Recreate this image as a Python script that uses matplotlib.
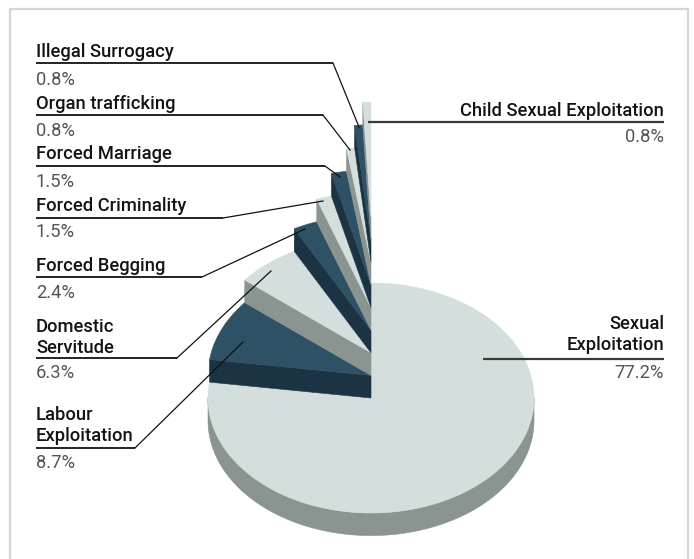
import numpy as np
import matplotlib.pyplot as plt
from matplotlib.patches import Polygon

# Shares of identified victims by form of exploitation (%)
categories = [
    "Sexual Exploitation", "Labour Exploitation", "Domestic Servitude",
    "Forced Begging", "Forced Criminality", "Forced Marriage",
    "Organ trafficking", "Illegal Surrogacy", "Child Sexual Exploitation",
]
shares = [77.2, 8.7, 6.3, 2.4, 1.5, 1.5, 0.8, 0.8, 0.8]
pct_labels = ["77.2%", "8.7%", "6.3%", "2.4%", "1.5%", "1.5%", "0.8%", "0.8%", "0.8%"]
name_lines = [
    ["Sexual", "Exploitation"], ["Labour", "Exploitation"], ["Domestic", "Servitude"],
    ["Forced Begging"], ["Forced Criminality"], ["Forced Marriage"],
    ["Organ trafficking"], ["Illegal Surrogacy"], ["Child Sexual Exploitation"],
]

# pie geometry in pixels
W, H = 694, 559
CX, CY = 371, 398
RX, RY = 163, 115
THICK = 22.6

LIGHT_TOP, LIGHT_SIDE = "#d4dedd", "#8a9491"
DARK_TOP, DARK_SIDE = "#2f5165", "#1b3342"

# label placement: x, name baseline, underline y, underline end x, leader tip
layout = [
    dict(ha="right", x=664, base=350, uy=359, ux=483, pct=378, tip=None),
    dict(ha="left", x=36, base=441, uy=448, ux=135, pct=468, tip=(243, 342)),
    dict(ha="left", x=36, base=353, uy=358, ux=177, pct=378, tip=(271, 271)),
    dict(ha="left", x=36, base=271, uy=277, ux=202, pct=298, tip=(305, 229)),
    dict(ha="left", x=36, base=211, uy=218, ux=223, pct=237, tip=(323, 201)),
    dict(ha="left", x=36, base=159, uy=166, ux=325, pct=187, tip=(340, 177)),
    dict(ha="left", x=36, base=109, uy=115, ux=323, pct=136, tip=(350, 150)),
    dict(ha="left", x=36, base=57, uy=63, ux=333, pct=85, tip=(359, 127)),
    dict(ha="right", x=664, base=116, uy=122, ux=368, pct=142, tip=None),
]


def rim(theta_deg, cy):
    th = np.radians(theta_deg)
    return CX + RX * np.sin(th), cy - RY * np.cos(th)


def arc(a0, a1, cy):
    th = np.linspace(a0, a1, max(int(abs(a1 - a0)) + 2, 3))
    x, y = rim(th, cy)
    return np.column_stack([x, y])


fig = plt.figure(figsize=(W / 100, H / 100), dpi=100)
ax = fig.add_axes([0, 0, 1, 1])
ax.set_xlim(0, W)
ax.set_ylim(H, 0)
ax.axis("off")

# outer frame, open at the bottom
ax.plot([10, 10, 688, 688], [570, 9, 9, 570], color="#d6d6d6", lw=1.6)

bounds = np.concatenate([[0], np.cumsum(shares)]) * 3.6
for k, (a0, a1) in enumerate(zip(bounds[:-1], bounds[1:])):
    top_c = CY - k * THICK
    bot_c = top_c + THICK
    light = k % 2 == 0
    top_col = LIGHT_TOP if light else DARK_TOP
    side_col = LIGHT_SIDE if light else DARK_SIDE

    # front rim (only visible between 3 and 9 o'clock)
    lo, hi = max(a0, 90), min(a1, 270)
    if hi > lo:
        pts = np.vstack([arc(lo, hi, top_c), arc(hi, lo, bot_c)])
        ax.add_patch(Polygon(pts, closed=True, fc=side_col, ec=side_col, lw=0.4))

    # leading cut face faces the viewer for slices on the left side
    if k > 0:
        rx_t, ry_t = rim(a0, top_c)
        rx_b, ry_b = rim(a0, bot_c)
        face = [(CX, top_c), (rx_t, ry_t), (rx_b, ry_b), (CX, bot_c)]
        ax.add_patch(Polygon(face, closed=True, fc=side_col, ec=side_col, lw=0.4))

    pts = np.vstack([[(CX, top_c)], arc(a0, a1, top_c)])
    ax.add_patch(Polygon(pts, closed=True, fc=top_col, ec=top_col, lw=0.4))

name_font = dict(family=["Roboto", "DejaVu Sans"], weight="medium", size=13.2, color="#141414")
pct_font = dict(family=["Roboto", "DejaVu Sans"], weight="normal", size=13.2, color="#555555")

for lines, pct, lay in zip(name_lines, pct_labels, layout):
    for i, line in enumerate(reversed(lines)):
        ax.text(lay["x"], lay["base"] - 21 * i, line, ha=lay["ha"], va="baseline", **name_font)
    ax.text(lay["x"], lay["pct"], pct, ha=lay["ha"], va="baseline", **pct_font)
    if lay["ha"] == "left":
        ax.plot([lay["x"], lay["ux"]], [lay["uy"], lay["uy"]], color="#222222", lw=1.4,
                solid_capstyle="butt")
        tx, ty = lay["tip"]
        ax.plot([lay["ux"], tx], [lay["uy"], ty], color="#111111", lw=0.9)
    else:
        ax.plot([lay["ux"], lay["x"]], [lay["uy"], lay["uy"]], color="#3a3a3a", lw=1.6,
                solid_capstyle="butt")

fig.savefig("out.png", dpi=100, facecolor="white")
